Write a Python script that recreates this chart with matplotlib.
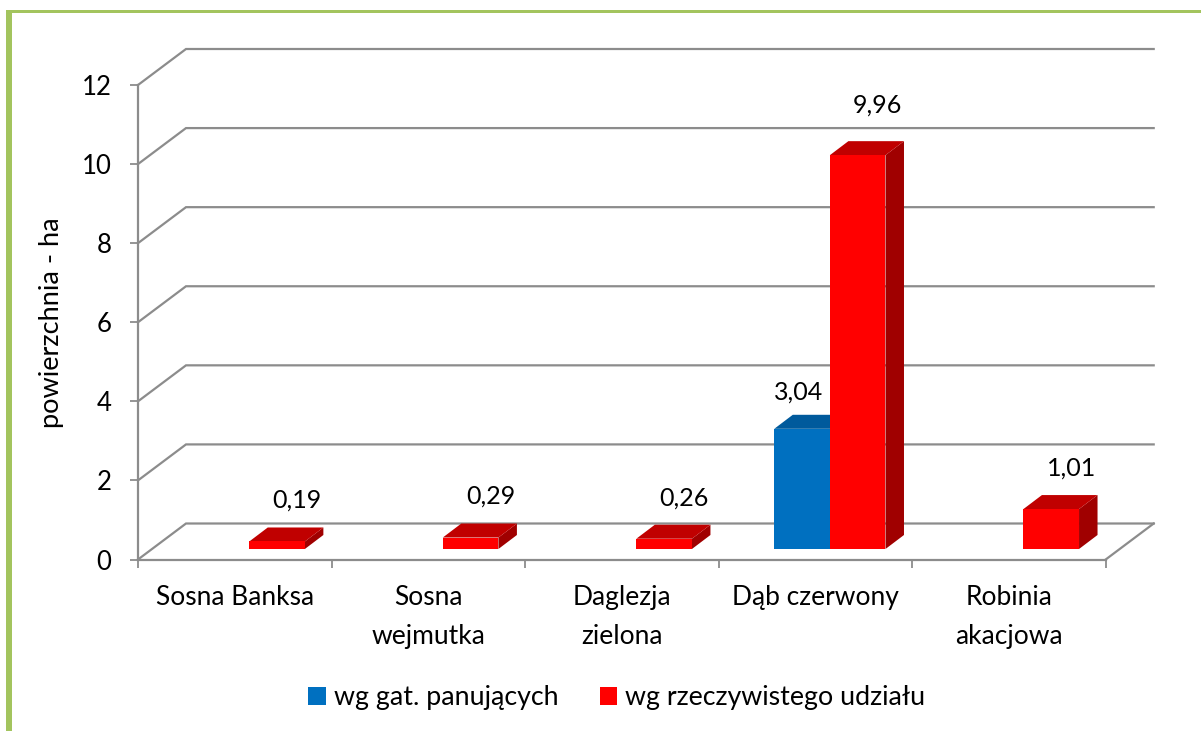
import matplotlib
matplotlib.use("Agg")
import matplotlib.pyplot as plt
from matplotlib.patches import Polygon, Patch, Rectangle

categories = ["Sosna Banksa", "Sosna\nwejmutka", "Daglezja\nzielona", "Dąb czerwony", "Robinia\nakacjowa"]
series_names = ["wg gat. panujących", "wg rzeczywistego udziału"]
dominant = [None, None, None, 3.04, None]
actual = [0.19, 0.29, 0.26, 9.96, 1.01]
y_ticks = [0, 2, 4, 6, 8, 10, 12]
y_label = "powierzchnia - ha"

W, H = 1201, 731
plt.rcParams["font.family"] = ["Lato", "DejaVu Sans"]
FS = 19.0
GRID = "#8c8c8c"

fig = plt.figure(figsize=(W / 100, H / 100), dpi=100)
L, R, T, B = 138.0, 1105.7, 85.0, 559.5
ax = fig.add_axes([L / W, 1 - B / H, (R - L) / W, (B - T) / H])
ax.set_xlim(0, 5)
ax.set_ylim(0, 12)
ux, uy = (R - L) / 5, (B - T) / 12

# oblique depth, in data units
DX, DY = 48 / ux, 36 / uy
bar_dx, bar_dy = 14.5 / ux, 10.5 / uy
depth_x, depth_y = 18.5 / ux, 14 / uy
bar_w = 55.6 / ux

for s in ("top", "right"):
    ax.spines[s].set_visible(False)
for s in ("left", "bottom"):
    ax.spines[s].set_color(GRID)
    ax.spines[s].set_linewidth(1.6)
ax.set_xticks(range(6))
ax.set_xticklabels([])
ax.set_xticks([i + 0.5 for i in range(5)], categories, minor=True, fontsize=FS)
ax.tick_params(axis="x", which="major", length=5.5, width=1.3, color=GRID)
ax.tick_params(axis="x", which="minor", length=0, pad=18.5)
ax.set_yticks(y_ticks)
ax.tick_params(axis="y", length=6, width=1.3, color=GRID, labelsize=18.5, pad=13)
for t in ax.get_xticklabels(minor=True):
    t.set_linespacing(1.68)
ax.set_ylabel(y_label, fontsize=19.5, labelpad=13)

# walls
for v in y_ticks:
    ax.plot([0, DX, 5 + DX], [v, v + DY, v + DY], color=GRID, lw=1.6, clip_on=False, zorder=1,
            solid_joinstyle="miter")
ax.plot([5, 5 + DX], [0, DY], color=GRID, lw=1.6, clip_on=False, zorder=1)

def bar3d(x, v, front, top, side):
    x0 = x + bar_dx
    x1 = x0 + bar_w
    y0, y1 = bar_dy, bar_dy + v
    ax.add_patch(Polygon([(x1, y0), (x1 + depth_x, y0 + depth_y), (x1 + depth_x, y1 + depth_y), (x1, y1)],
                         fc=side, ec="none", clip_on=False, zorder=3))
    ax.add_patch(Polygon([(x0, y1), (x0 + depth_x, y1 + depth_y), (x1 + depth_x, y1 + depth_y), (x1, y1)],
                         fc=top, ec="none", clip_on=False, zorder=3))
    ax.add_patch(Polygon([(x0, y0), (x1, y0), (x1, y1), (x0, y1)],
                         fc=front, ec="none", clip_on=False, zorder=3))

def label(x, v, dx, dy):
    txt = f"{v:.2f}".replace(".", ",")
    ax.annotate(txt, (x + bar_dx + bar_w / 2, v + bar_dy), xytext=(dx, dy), textcoords="offset pixels",
                ha="center", va="center", fontsize=18, annotation_clip=False, zorder=5)

for i, v in enumerate(dominant):
    if v is not None:
        bar3d(i + 0.5 - bar_w, v, "#0070C0", "#005A9C", "#005088")
        label(i + 0.5 - bar_w, v, -3, 37)
for i, v in enumerate(actual):
    bar3d(i + 0.5, v, "#FF0000", "#C00000", "#A00000")
    label(i + 0.5, v, 20, 50 if v > 9 else 41)

# frame on the top and left of the picture
fig.add_artist(Rectangle((6 / W, 0), 5.7 / W, 1 - 10 / H, transform=fig.transFigure, fc="#A3C45E", ec="none"))
fig.add_artist(Rectangle((6 / W, 1 - 12.7 / H), 1 - 6 / W, 2.7 / H, transform=fig.transFigure, fc="#A3C45E", ec="none"))

fig.legend(handles=[Patch(fc="#0070C0", label=series_names[0]), Patch(fc="#FF0000", label=series_names[1])],
           loc="center", bbox_to_anchor=(617 / W, 1 - 698 / H), ncol=2, frameon=False, fontsize=19.3,
           handlelength=0.65, handleheight=0.65, handletextpad=0.3, columnspacing=1.55)

fig.savefig("out.png", dpi=100, facecolor="white")
